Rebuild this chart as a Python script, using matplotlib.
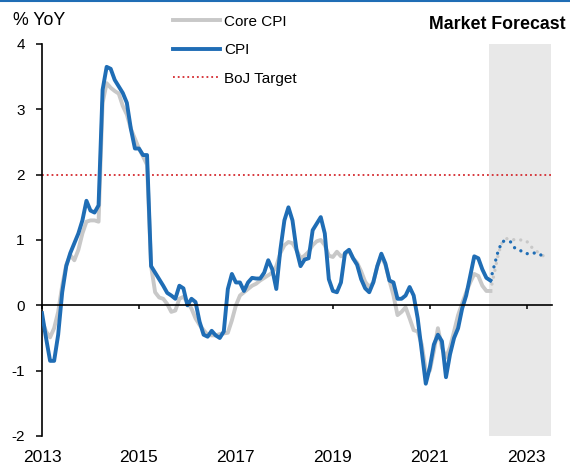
import numpy as np
import matplotlib
matplotlib.use('Agg')
import matplotlib.pyplot as plt
from matplotlib.lines import Line2D

plt.rcParams['font.family'] = ['Liberation Sans', 'DejaVu Sans']
plt.rcParams['axes.unicode_minus'] = False

# CPI y/y, monthly from Jan 2013 to Apr 2022
cpi = [
    -0.12, -0.5, -0.85, -0.85, -0.45, 0.2, 0.6, 0.8, 0.95, 1.1, 1.3, 1.6,      # 2013
    1.45, 1.42, 1.53, 3.3, 3.65, 3.62, 3.45, 3.35, 3.25, 3.1, 2.7, 2.4,        # 2014
    2.4, 2.3, 2.3, 0.6, 0.5, 0.4, 0.3, 0.19, 0.15, 0.1, 0.3, 0.26,             # 2015
    0.0, 0.1, 0.05, -0.25, -0.45, -0.48, -0.39, -0.46, -0.5, -0.4, 0.25, 0.48, # 2016
    0.35, 0.35, 0.22, 0.35, 0.42, 0.41, 0.41, 0.5, 0.69, 0.55, 0.25, 0.85,     # 2017
    1.3, 1.5, 1.3, 0.85, 0.6, 0.7, 0.72, 1.15, 1.25, 1.35, 1.1, 0.4,           # 2018
    0.22, 0.2, 0.35, 0.8, 0.85, 0.72, 0.62, 0.4, 0.26, 0.2, 0.35, 0.6,         # 2019
    0.79, 0.64, 0.38, 0.35, 0.1, 0.1, 0.15, 0.28, 0.15, -0.2, -0.7, -1.2,      # 2020
    -0.95, -0.6, -0.45, -0.55, -1.1, -0.75, -0.5, -0.35, -0.05, 0.15, 0.45, 0.75,  # 2021
    0.72, 0.55, 0.42, 0.38,                                                    # 2022
]

# Core CPI y/y, same months
core = [
    -0.23, -0.4, -0.49, -0.35, -0.1, 0.3, 0.62, 0.77, 0.69, 0.85, 1.1, 1.28,
    1.3, 1.3, 1.28, 3.1, 3.4, 3.33, 3.28, 3.24, 3.05, 2.92, 2.7, 2.55,
    2.4, 2.28, 2.15, 0.6, 0.2, 0.12, 0.1, 0.02, -0.1, -0.08, 0.1, 0.13,
    0.05, -0.05, -0.2, -0.3, -0.38, -0.45, -0.46, -0.46, -0.44, -0.43, -0.42, -0.23,
    0.0, 0.15, 0.2, 0.25, 0.3, 0.33, 0.38, 0.42, 0.46, 0.5, 0.6, 0.8,
    0.92, 0.97, 0.95, 0.85, 0.72, 0.76, 0.82, 0.92, 0.98, 1.0, 0.92, 0.76,
    0.74, 0.82, 0.75, 0.78, 0.84, 0.72, 0.65, 0.52, 0.36, 0.28, 0.35, 0.6,
    0.75, 0.62, 0.38, 0.15, -0.15, -0.1, -0.03, -0.2, -0.38, -0.4, -0.6, -1.0,
    -1.0, -0.7, -0.35, -0.65, -0.8, -0.64, -0.4, -0.15, 0.03, 0.2, 0.35, 0.48,
    0.45, 0.3, 0.22, 0.22,
]

# market forecast, Apr 2022 to Jun 2023
cpi_fc = [0.38, 0.62, 0.85, 0.98, 0.98, 0.97, 0.88, 0.85, 0.82, 0.79, 0.8, 0.8, 0.79, 0.75, 0.74]
core_fc = [0.22, 0.5, 0.8, 0.98, 1.02, 1.02, 1.0, 1.0, 1.0, 0.98, 0.9, 0.85, 0.8, 0.76, 0.75]

boj_target = 2
year_ticks = [2013, 2015, 2017, 2019, 2021, 2023]
forecast_span = (2022.22, 2023.5)

t = 2013 + np.arange(len(cpi)) / 12
t_fc = 2013 + (len(cpi) - 1 + np.arange(len(cpi_fc))) / 12

blue = '#1f6db5'
grey = '#c8c8c8'

fig = plt.figure(figsize=(5.7, 4.65), dpi=100)
ax = fig.add_axes([0.0737, 0.0624, 0.8947, 0.8430])
ax.set_xlim(2013, 2023.52)
ax.set_ylim(-2, 4)

ax.axvspan(*forecast_span, color='#e8e8e8', lw=0, zorder=0)

l_core, = ax.plot(t, core, color=grey, lw=2.8, solid_joinstyle='round', zorder=2, label='Core CPI')
l_cpi, = ax.plot(t, cpi, color=blue, lw=2.8, solid_joinstyle='round', zorder=3, label='CPI')
ax.plot(t_fc, core_fc, color=grey, lw=2.4, ls=(0, (0.01, 2.1)), dash_capstyle='round', zorder=2)
ax.plot(t_fc, cpi_fc, color=blue, lw=2.4, ls=(0, (0.01, 2.1)), dash_capstyle='round', zorder=3)
l_boj = ax.axhline(boj_target, color='#d42a2f', lw=1.3, ls=':', zorder=1, label='BoJ Target')

for s in ['top', 'right']:
    ax.spines[s].set_visible(False)
ax.spines['bottom'].set_position(('data', 0))
ax.spines['bottom'].set_linewidth(1.2)
ax.spines['left'].set_linewidth(1.2)
ax.spines['bottom'].set_zorder(4)

ax.set_yticks(range(-2, 5))
ax.tick_params(axis='y', direction='out', length=4.5, width=1.1, pad=8, labelsize=11)
ax.set_xticks(year_ticks)
ax.tick_params(axis='x', direction='out', length=3, width=1.1, labelbottom=False)

sec = ax.secondary_xaxis('bottom')
sec.set_xticks(year_ticks)
sec.tick_params(length=0, pad=10, labelsize=12.5)
for s in sec.spines.values():
    s.set_visible(False)

fig.text(0.022, 0.955, '% YoY', fontsize=12.8, va='center', ha='left')
fig.text(0.992, 0.948, 'Market Forecast', fontsize=12.8, fontweight='bold', va='center', ha='right')

fig.legend(handles=[l_core, l_cpi, l_boj], loc='upper left', bbox_to_anchor=(0.29, 0.985),
           frameon=False, fontsize=11, handlelength=3.1, handletextpad=0.25,
           labelspacing=0.95, borderpad=0)

fig.add_artist(Line2D([0, 1], [0.998, 0.998], color=blue, lw=1.5, transform=fig.transFigure))

fig.savefig('out.png', dpi=100)
